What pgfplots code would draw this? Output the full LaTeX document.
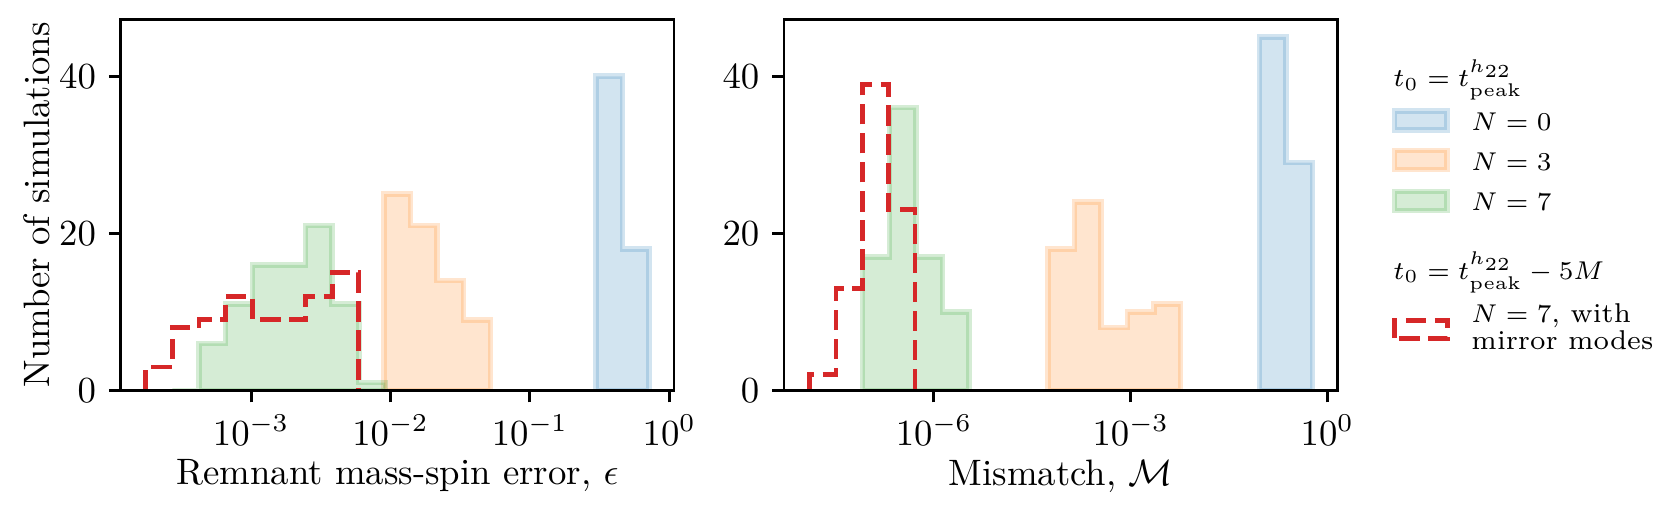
\documentclass[border=0pt]{standalone}
\usepackage{pgfplots}
\usepackage{pgfplotstable}
\pgfplotsset{compat=1.18}
\definecolor{tabblue}{HTML}{1F77B4}
\definecolor{taborange}{HTML}{FF7F0E}
\definecolor{tabgreen}{HTML}{2CA02C}
\definecolor{tabred}{HTML}{D62728}

% left panel (x = log10 of value)
\pgfplotstableread{
x y
-0.526 0
-0.526 40
-0.336 18
-0.146 18
-0.146 0
}\Lblue
\pgfplotstableread{
x y
-2.045 0
-2.045 25
-1.855 21
-1.665 14
-1.475 9
-1.284 9
-1.284 0
}\Lorange
\pgfplotstableread{
x y
-3.5635 0
-3.5635 0
-3.3726 6
-3.1816 11
-2.9907 16
-2.7997 16
-2.6088 21
-2.4178 11
-2.2269 1
-2.0359 1
-2.0359 0
}\Lgreen
\pgfplotstableread{
x y
-3.7545 0
-3.7545 3
-3.5635 8
-3.3726 9
-3.1816 12
-2.9907 9
-2.7997 9
-2.6088 12
-2.4178 15
-2.2269 15
-2.2269 0
}\Lred
% right panel
\pgfplotstableread{
x y
-1.037 0
-1.037 45
-0.633 29
-0.229 29
-0.229 0
}\Rblue
\pgfplotstableread{
x y
-4.258 0
-4.258 18
-3.854 24
-3.450 8
-3.046 10
-2.642 11
-2.239 11
-2.239 0
}\Rorange
\pgfplotstableread{
x y
-7.087 0
-7.087 17
-6.681 36
-6.274 17
-5.867 10
-5.462 10
-5.462 0
}\Rgreen
\pgfplotstableread{
x y
-7.901 0
-7.901 2
-7.494 13
-7.087 39
-6.697 23
-6.290 23
-6.290 0
}\Rred

\pgfplotsset{
  histo/.style={const plot mark left, mark=none, fill=#1, fill opacity=0.2,
    draw=#1, draw opacity=0.2, line width=1.5pt},
  redstep/.style={const plot mark left, mark=none, draw=tabred, line width=1.3pt,
    dash pattern=on 5.5pt off 2.4pt},
  common/.style={scale only axis, width=150.5pt, height=100.97pt,
    ymin=0, ymax=47.25, ytick={0,20,40}, tick align=outside, tick pos=left,
    major tick length=3.2pt, axis line style={line width=0.8pt},
    every tick/.style={black, line width=0.8pt}, anchor=south west,
    axis on top, minor tick num=0, xlabel shift=-2.9pt}
}

\begin{document}
\begin{tikzpicture}
\path[use as bounding box] (0,0) rectangle (451.52pt,138.18pt);

\begin{axis}[common, at={(32.83pt,31.96pt)},
  xmin=-3.935, xmax=0.034,
  xtick={-3,-2,-1,0},
  xticklabels={$10^{-3}$,$10^{-2}$,$10^{-1}$,$10^{0}$},
  xlabel={Remnant mass-spin error, $\epsilon$},
  ylabel={Number of simulations},
  ylabel style={at={(axis description cs:-0.152,0.5)}, anchor=center}]
\addplot[histo=tabblue] table {\Lblue} \closedcycle;
\addplot[histo=taborange] table {\Lorange} \closedcycle;
\addplot[histo=tabgreen] table {\Lgreen} \closedcycle;
\addplot[redstep] table {\Lred};
\end{axis}

\begin{axis}[common, at={(213.25pt,31.96pt)},
  xmin=-8.287, xmax=0.152,
  xtick={-6,-3,0},
  xticklabels={$10^{-6}$,$10^{-3}$,$10^{0}$},
  xlabel={Mismatch, $\mathcal{M}$}]
\addplot[histo=tabblue] table {\Rblue} \closedcycle;
\addplot[histo=taborange] table {\Rorange} \closedcycle;
\addplot[histo=tabgreen] table {\Rgreen} \closedcycle;
\addplot[redstep] table {\Rred};
\end{axis}

% legend
\begingroup
\fontsize{7.4}{7.4}\selectfont
\node[anchor=base west, inner sep=0pt] at (378.81pt,114.59pt) {$t_0 = t^{h_{22}}_{\mathrm{peak}}$};
\path[fill=tabblue, fill opacity=0.2, draw=tabblue, draw opacity=0.2, line width=1.5pt]
  (379.3pt,102.8pt) rectangle (393.6pt,108.0pt);
\node[anchor=base west, inner sep=0pt] at (400.03pt,102.63pt) {$N=0$};
\path[fill=taborange, fill opacity=0.2, draw=taborange, draw opacity=0.2, line width=1.5pt]
  (379.3pt,92.06pt) rectangle (393.6pt,97.26pt);
\node[anchor=base west, inner sep=0pt] at (400.03pt,91.75pt) {$N=3$};
\path[fill=tabgreen, fill opacity=0.2, draw=tabgreen, draw opacity=0.2, line width=1.5pt]
  (379.3pt,80.9pt) rectangle (393.6pt,86.1pt);
\node[anchor=base west, inner sep=0pt] at (400.03pt,80.87pt) {$N=7$};
\node[anchor=base west, inner sep=0pt] at (378.81pt,62.21pt) {$t_0 = t^{h_{22}}_{\mathrm{peak}} - 5M$};
\draw[tabred, line width=1.3pt, dash pattern=on 5.5pt off 2.4pt]
  (379.2pt,46.2pt) rectangle (393.75pt,50.9pt);
\node[anchor=base west, inner sep=0pt] at (400.03pt,50.40pt) {$N=7$, with};
\node[anchor=base west, inner sep=0pt] at (400.03pt,42.98pt) {mirror modes};
\endgroup
\end{tikzpicture}
\end{document}
